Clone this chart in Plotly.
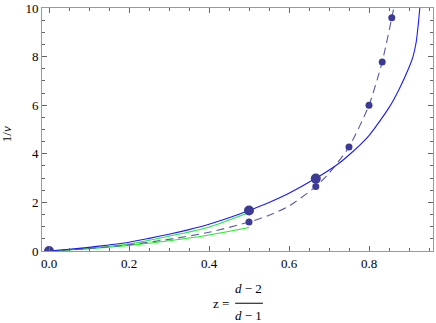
import plotly.graph_objects as go

# solid blue curve
solid_z = [0.0, 0.05, 0.1, 0.15, 0.2, 0.25, 0.3, 0.35, 0.4, 0.45, 0.5, 0.55, 0.6, 0.667,
           0.72, 0.75, 0.8, 0.85, 0.875, 0.9, 0.91, 0.918, 0.923, 0.927]
solid_y = [0.0, 0.07, 0.15, 0.25, 0.36, 0.52, 0.69, 0.88, 1.1, 1.37, 1.67, 2.0, 2.38, 2.99,
           3.55, 3.95, 4.75, 5.9, 6.65, 7.55, 8.0, 8.6, 9.3, 10.0]

# dashed curve through the numerical points
dash_z = [0.0, 0.1, 0.2, 0.3, 0.4, 0.5, 0.55, 0.6, 0.667, 0.7, 0.75, 0.8, 0.833, 0.857, 0.862]
dash_y = [0.0, 0.1, 0.26, 0.48, 0.77, 1.19, 1.47, 1.85, 2.65, 3.2, 4.28, 6.0, 7.78, 9.6, 10.0]

# green curves (up to z = 0.5)
green_z = [0.0, 0.1, 0.2, 0.3, 0.4, 0.5]
green_hi = [0.0, 0.11, 0.29, 0.61, 0.98, 1.58]
green_lo = [0.0, 0.09, 0.23, 0.42, 0.66, 0.97]

# points
big_z = [0.0, 0.5, 0.667]
big_y = [0.0, 1.67, 2.98]
small_z = [0.5, 0.667, 0.75, 0.8, 0.833, 0.857]
small_y = [1.19, 2.65, 4.28, 6.0, 7.78, 9.6]

xticks = [0.0, 0.2, 0.4, 0.6, 0.8]
xlabels = ['0.0', '0.2', '0.4', '0.6', '0.8']
yticks = [0, 2, 4, 6, 8, 10]

dot_color = '#3b3b95'
font = dict(family='Liberation Serif', size=13, color='black')

fig = go.Figure()

fig.add_trace(go.Scatter(x=green_z, y=green_hi, mode='lines',
                         line=dict(color='#22ee22', width=1.1, shape='spline', smoothing=0.6)))
fig.add_trace(go.Scatter(x=green_z, y=green_lo, mode='lines',
                         line=dict(color='#22ee22', width=1.1, shape='spline', smoothing=0.6)))
fig.add_trace(go.Scatter(x=dash_z, y=dash_y, mode='lines',
                         line=dict(color='#5a5aa6', width=1.1, dash='8px,5px', shape='spline', smoothing=0.6)))
fig.add_trace(go.Scatter(x=solid_z, y=solid_y, mode='lines',
                         line=dict(color='#1a1aff', width=1.1, shape='spline', smoothing=0.6)))
fig.add_trace(go.Scatter(x=small_z, y=small_y, mode='markers', marker=dict(color=dot_color, size=7)))
fig.add_trace(go.Scatter(x=big_z, y=big_y, mode='markers', marker=dict(color=dot_color, size=10)))

axis_style = dict(
    showgrid=False, zeroline=False, showline=True, linecolor='#9a9a9a', linewidth=1,
    mirror='ticks', ticks='inside', ticklen=5, tickcolor='#666666', tickwidth=1,
    tickfont=font, automargin=False,
)

fig.update_xaxes(range=[-0.0175, 0.96], tickvals=xticks, ticktext=xlabels,
                 minor=dict(dtick=0.05, ticks='inside', ticklen=3, tickcolor='#666666'),
                 **axis_style)
fig.update_yaxes(range=[0, 10], tickvals=yticks,
                 minor=dict(dtick=0.5, ticks='inside', ticklen=3, tickcolor='#666666'),
                 **axis_style)

fig.update_layout(
    width=436, height=323,
    margin=dict(l=42, r=3, t=8, b=72),
    plot_bgcolor='white', paper_bgcolor='white',
    showlegend=False,
    font=font,
)

# axis labels (fraction built by hand)
fig.add_annotation(text='1/<i>ν</i>', xref='paper', yref='paper', x=-0.09, y=0.48,
                   textangle=-90, showarrow=False, font=font, xanchor='center', yanchor='middle')
fig.add_annotation(text='z =', xref='paper', yref='paper', x=0.484, y=-0.218,
                   showarrow=False, font=font, xanchor='right', yanchor='middle')
fig.add_annotation(text='<i>d</i> − 2', xref='paper', yref='paper', x=0.529, y=-0.155,
                   showarrow=False, font=font, xanchor='center', yanchor='middle')
fig.add_annotation(text='<i>d</i> − 1', xref='paper', yref='paper', x=0.529, y=-0.265,
                   showarrow=False, font=font, xanchor='center', yanchor='middle')
fig.add_shape(type='line', xref='paper', yref='paper', x0=0.494, x1=0.565, y0=-0.215, y1=-0.215,
              line=dict(color='black', width=1))

# the page body has a default 8px margin; drop it so the figure sits at the corner
fig.write_html("out.html", config={'displayModeBar': False},
               post_script="document.body.style.margin='0';")
